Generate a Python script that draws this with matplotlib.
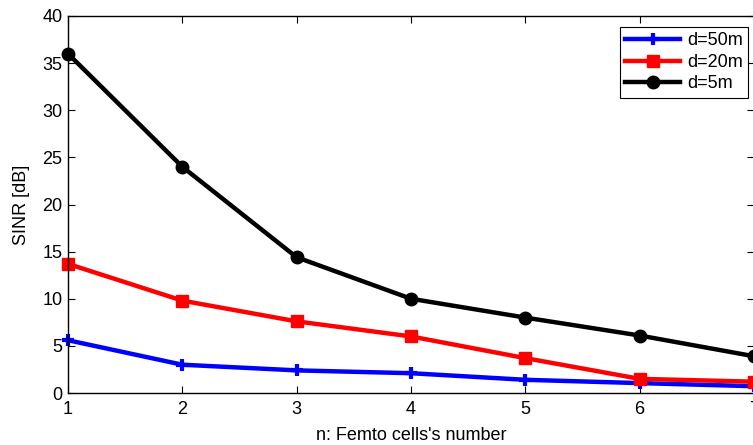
import numpy as np
import matplotlib
matplotlib.use("Agg")
import matplotlib.pyplot as plt

plt.rcParams['font.family'] = ['Liberation Sans', 'DejaVu Sans']

n = [1, 2, 3, 4, 5, 6, 7]
sinr_50m = [5.6, 3.0, 2.4, 2.1, 1.4, 1.05, 0.72]
sinr_20m = [13.7, 9.8, 7.6, 6.0, 3.7, 1.5, 1.2]
sinr_5m = [36.0, 24.0, 14.4, 10.0, 8.0, 6.1, 3.9]

fig = plt.figure(figsize=(7.53, 4.45), dpi=100)
ax = fig.add_axes([68/753, 1-393/445, (754-68)/753, (393-16)/445])

ax.plot(n, sinr_50m, color="blue", marker="+", markersize=9, markeredgewidth=3, linewidth=3.2, label="d=50m", clip_on=False)
ax.plot(n, sinr_20m, color="red", marker="s", markersize=9, linewidth=3.2, label="d=20m", clip_on=False)
ax.plot(n, sinr_5m, color="black", marker="o", markersize=9, linewidth=3.2, label="d=5m", clip_on=False)

ax.set_xlim(1, 7)
ax.set_ylim(0, 40)
ax.set_xticks(n)
ax.set_yticks(range(0, 41, 5))
ax.tick_params(direction="in", top=True, right=True, labelsize=13, length=5, width=0.8, pad=4)
ax.tick_params(axis="x", pad=6)
for s in ax.spines.values():
    s.set_linewidth(1.0)
ax.set_xlabel("n: Femto cells's number", fontsize=13, labelpad=6)
ax.set_ylabel("SINR [dB]", fontsize=13, labelpad=9)

leg = ax.legend(loc="upper right", fontsize=13, fancybox=False, edgecolor="black",
                framealpha=1, handlelength=3.0, borderaxespad=0.0, labelspacing=0.25,
                handletextpad=0.4, borderpad=0.3)
leg.get_frame().set_linewidth(0.8)
leg.set_bbox_to_anchor((748/753, 1-27/445), transform=fig.transFigure)

fig.savefig("out.png", dpi=100)
